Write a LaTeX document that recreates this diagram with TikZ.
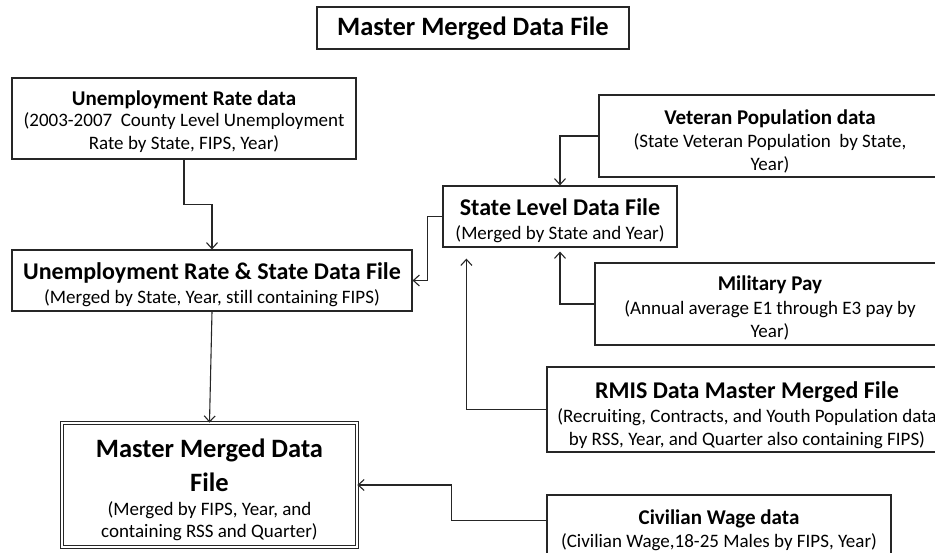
\documentclass[tikz,border=0pt]{standalone}
\usepackage{fontspec}
\setmainfont{Carlito}[Ligatures={NoCommon}]
\usetikzlibrary{arrows.meta}
\newcommand{\fTitle}{\fontsize{26.5}{32}\selectfont\bfseries}
\newcommand{\fHead}{\fontsize{24}{23}\selectfont\bfseries}
\newcommand{\fhead}{\fontsize{21}{23}\selectfont\bfseries}
\newcommand{\fsub}{\fontsize{19}{23}\selectfont}
\newcommand{\lift}[1]{\rule{0pt}{\dimexpr\fontcharht\font`d+#1\relax}}
\tikzset{
  box/.style={draw=black!85, line width=1.2pt, inner sep=0pt, align=center, font=\fsub},
  conn/.style={draw=black!85, line width=1.1pt, -{Straight Barb[length=6pt,width=11pt,line width=1.1pt]}},
}
\begin{document}
\begin{tikzpicture}[x=1pt,y=-1pt]
\clip (0,0) rectangle (935,553);
\fill[white] (0,0) rectangle (935,553);

\node[box, minimum width=312pt, minimum height=42pt] (title) at (473,28) {\fTitle Master Merged Data File};

\node[box, minimum width=344pt, minimum height=81pt] (urd) at (184,118.5)
  {{\fhead\lift{6pt}Unemployment Rate data}\\[-2pt] (2003-2007~ County Level Unemployment\\ Rate by State, FIPS, Year)};

\node[box, minimum width=400pt, minimum height=61pt] (ues) at (212,280.5)
  {{\fHead\lift{9pt}Unemployment Rate \& State Data File}\\[1pt] (Merged by State, Year, still containing FIPS)};

\node[box, double, double distance=2pt, line width=0.8pt, minimum width=295pt, minimum height=124pt] (mm) at (209.5,485)
  {{\fTitle\lift{10pt}Master Merged Data}\\[10pt] {\fTitle File}\\[1pt] (Merged by FIPS, Year, and\\[-1pt] containing RSS and Quarter)};

\node[box, minimum width=234pt, minimum height=61pt] (sl) at (560,216.5)
  {{\fHead\lift{8pt}State Level Data File}\\[1pt] (Merged by State and Year)};

\node[box, minimum width=342pt, minimum height=82pt] (vet) at (770,136)
  {{\fhead\lift{10pt}Veteran Population data}\\ (State Veteran Population~ by State,\\ Year)};

\node[box, minimum width=350pt, minimum height=82pt] (mil) at (770,304)
  {{\fhead\lift{8pt}Military Pay}\\[1pt] (Annual average E1 through E3 pay by\\ Year)};

\node[box, minimum width=400pt, minimum height=85pt] (rmis) at (747,409.5)
  {{\fHead\lift{11pt}RMIS Data Master Merged File}\\[1pt] (Recruiting, Contracts, and Youth Population data\\ by RSS, Year, and Quarter also containing FIPS)};

\node[box, minimum width=344pt, minimum height=66pt] (civ) at (719,528)
  {{\fhead\lift{4pt}Civilian Wage data}\\ (Civilian Wage,18-25 Males by FIPS, Year)};

\draw[conn] (urd.south) -- ++(0,45) -| (ues.north);
\draw[conn] (ues.south) -- (mm.north);
\draw[conn] (sl.west) -- ++(-15,0) |- (ues.east);
\draw[conn] (vet.west) -| (sl.north);
\draw[conn] (mil.west) -| ([yshift=-4pt]sl.south);
\draw[conn] (rmis.west) -| ([xshift=24pt,yshift=-11pt]sl.south west);
\draw[conn] ([yshift=-26pt]civ.north west) -- ++(-95,0) |- (mm.east);
\end{tikzpicture}
\end{document}
